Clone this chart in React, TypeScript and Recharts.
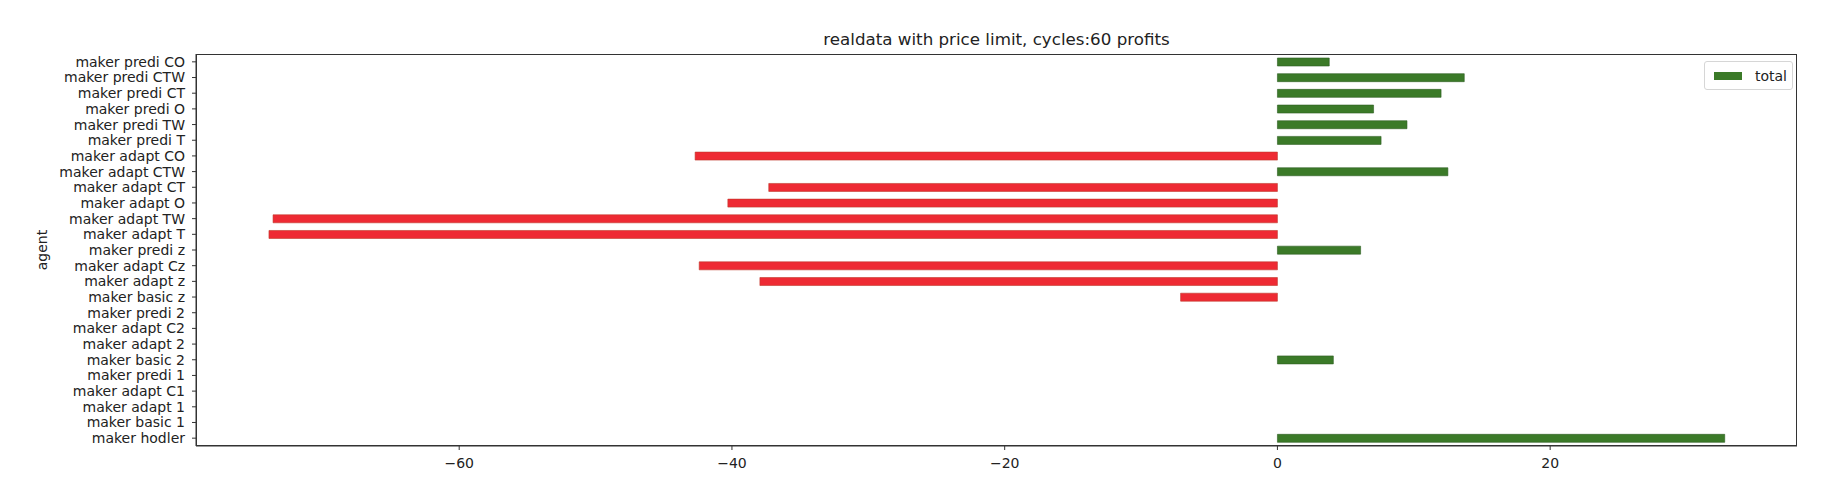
import React from 'react';
import { BarChart, Bar, XAxis, YAxis, Cell } from 'recharts';

const agents = [
  'maker predi CO', 'maker predi CTW', 'maker predi CT', 'maker predi O', 'maker predi TW', 'maker predi T',
  'maker adapt CO', 'maker adapt CTW', 'maker adapt CT', 'maker adapt O', 'maker adapt TW', 'maker adapt T',
  'maker predi z', 'maker adapt Cz', 'maker adapt z', 'maker basic z', 'maker predi 2', 'maker adapt C2',
  'maker adapt 2', 'maker basic 2', 'maker predi 1', 'maker adapt C1', 'maker adapt 1', 'maker basic 1',
  'maker hodler',
];

const totals = [
  3.8, 13.7, 12.0, 7.05, 9.5, 7.6,
  -42.7, 12.5, -37.3, -40.3, -73.65, -73.95,
  6.1, -42.4, -37.95, -7.1, 0, 0,
  0, 4.1, 0, 0, 0, 0,
  32.8,
];

const xTicks = [-60, -40, -20, 0, 20];

const data = agents.map((agent, i) => ({ agent, total: totals[i] }));

const font = '"DejaVu Sans", sans-serif';
const textColor = '#222';
const green = '#3b7a28';
const red = '#ee2a33';

// plot area inside the chart box
const plot = { left: 188, top: 46, width: 1601, height: 392 };

const fmt = (v: number) => (v < 0 ? '\u2212' + Math.abs(v) : String(v));

export default function App() {
  return (
    <div style={{ position: 'relative', width: 1812, height: 479, background: '#fff' }}>
      <div
        style={{
          position: 'absolute',
          left: plot.left,
          width: plot.width,
          top: 21,
          textAlign: 'center',
          fontFamily: font,
          fontSize: 16.7,
          color: textColor,
          lineHeight: '20px',
        }}
      >
        realdata with price limit, cycles:60 profits
      </div>
      <div
        style={{
          position: 'absolute',
          left: 34,
          top: 242,
          transform: 'translate(-50%, -50%) rotate(-90deg)',
          fontFamily: font,
          fontSize: 14,
          color: textColor,
        }}
      >
        agent
      </div>
      <BarChart
        width={1812}
        height={479}
        data={data}
        layout="vertical"
        margin={{ top: 46, right: 23, left: 0, bottom: 11 }}
      >
        <XAxis
          type="number"
          domain={[-79.3, 38.1]}
          ticks={xTicks}
          tickFormatter={fmt}
          allowDataOverflow
          height={30}
          stroke="#333"
          tickSize={4}
          tickMargin={8}
          tick={{ fill: textColor, fontSize: 14, fontFamily: font }}
        />
        <YAxis
          type="category"
          dataKey="agent"
          width={188}
          stroke="#333"
          tickSize={4}
          tickMargin={7}
          interval={0}
          tick={{ fill: textColor, fontSize: 14, fontFamily: font }}
        />
        <Bar dataKey="total" name="total" barSize={8} isAnimationActive={false}>
          {data.map((d, i) => (
            <Cell
              key={i}
              fill={d.total >= 0 ? green : red}
              stroke={d.total === 0 ? 'none' : d.total > 0 ? '#2e5e22' : '#c0392b'}
              strokeWidth={0.6}
            />
          ))}
        </Bar>
      </BarChart>
      {/* axes frame */}
      <div
        style={{
          position: 'absolute',
          left: plot.left,
          top: plot.top,
          width: plot.width,
          height: plot.height,
          boxSizing: 'border-box',
          border: '1px solid #333',
          pointerEvents: 'none',
        }}
      />
      {/* legend */}
      <div
        style={{
          position: 'absolute',
          left: 1696,
          top: 53,
          width: 89,
          height: 29,
          boxSizing: 'border-box',
          border: '1px solid #d6d6d6',
          borderRadius: 3,
          background: '#fff',
          display: 'flex',
          alignItems: 'center',
          fontFamily: font,
          fontSize: 14,
          color: textColor,
        }}
      >
        <span style={{ display: 'inline-block', width: 28, height: 8, background: green, marginLeft: 9, marginRight: 13 }} />
        <span>total</span>
      </div>
    </div>
  );
}
